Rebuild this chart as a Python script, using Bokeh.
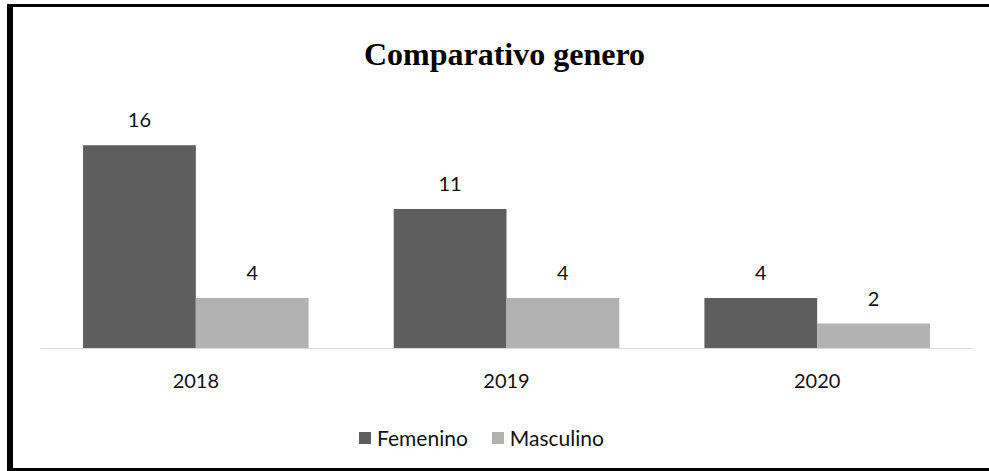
from bokeh.plotting import figure
from bokeh.models import ColumnDataSource, FactorRange, LabelSet, Label, Legend, LegendItem, Range1d
from bokeh.transform import dodge
from bokeh.core.properties import value
from bokeh.embed import file_html
from bokeh.resources import INLINE

years = ["2018", "2019", "2020"]
femenino = [16, 11, 4]
masculino = [4, 4, 2]
series_names = ["Femenino", "Masculino"]
title_text = "Comparativo genero"

src = ColumnDataSource(dict(
    years=years,
    femenino=femenino,
    masculino=masculino,
    fem_lbl=[str(v) for v in femenino],
    mas_lbl=[str(v) for v in masculino],
))

DARK = "#5e5e5e"
LIGHT = "#b2b2b2"
FONT = "Lato"
TXT = "#111111"
BW = 0.363

p = figure(
    x_range=FactorRange(factors=years, range_padding=0),
    y_range=Range1d(-9.39, 26.83),
    width=976, height=461,
    output_backend="svg", toolbar_location=None,
    min_border_left=27, min_border_right=17,
    min_border_top=0, min_border_bottom=0,
)
p.styles = {"margin-left": "13px", "margin-top": "7px",
            "box-shadow": "-3px 0 0 3px black"}

r1 = p.vbar(x=dodge("years", -BW / 2, range=p.x_range), top="femenino", width=BW,
            source=src, fill_color=DARK, line_color=None)
r2 = p.vbar(x=dodge("years", BW / 2, range=p.x_range), top="masculino", width=BW,
            source=src, fill_color=LIGHT, line_color=None)

legend = Legend(
    items=[LegendItem(label=series_names[0], renderers=[r1]),
           LegendItem(label=series_names[1], renderers=[r2])],
    orientation="horizontal", location=(317, 18),
    glyph_width=15, glyph_height=15, label_standoff=5, spacing=22,
    padding=0, margin=0, border_line_color=None, background_fill_alpha=0,
    label_text_font=FONT, label_text_font_size="21px", label_text_color=TXT,
)
p.add_layout(legend, "center")

for col, lbl, off in (("femenino", "fem_lbl", -BW / 2), ("masculino", "mas_lbl", BW / 2)):
    ls = LabelSet(x=dodge("years", off, range=p.x_range), y=col, text=lbl, source=src,
                  text_align="center", text_baseline="alphabetic", y_offset=18,
                  text_font=value(FONT), text_font_size=value("20px"), text_color=value(TXT))
    p.add_layout(ls)

title = Label(x=1.5, y=23.2, text=title_text, text_align="center", text_baseline="alphabetic",
              text_font="Liberation Serif", text_font_style="bold", text_font_size="32px",
              text_color="black", x_offset=-2)
p.add_layout(title)

p.yaxis.visible = False
p.xgrid.grid_line_color = None
p.ygrid.grid_line_color = None
p.outline_line_color = None
p.xaxis.fixed_location = 0
p.xaxis.axis_line_color = "#d9d9d9"
p.xaxis.axis_line_width = 1
p.xaxis.major_tick_line_color = None
p.xaxis.minor_tick_line_color = None
p.xaxis.major_label_text_font = FONT
p.xaxis.major_label_text_font_size = "20px"
p.xaxis.major_label_text_color = TXT
p.xaxis.major_label_standoff = 19

open("out.html", "w").write(file_html(p, INLINE))
